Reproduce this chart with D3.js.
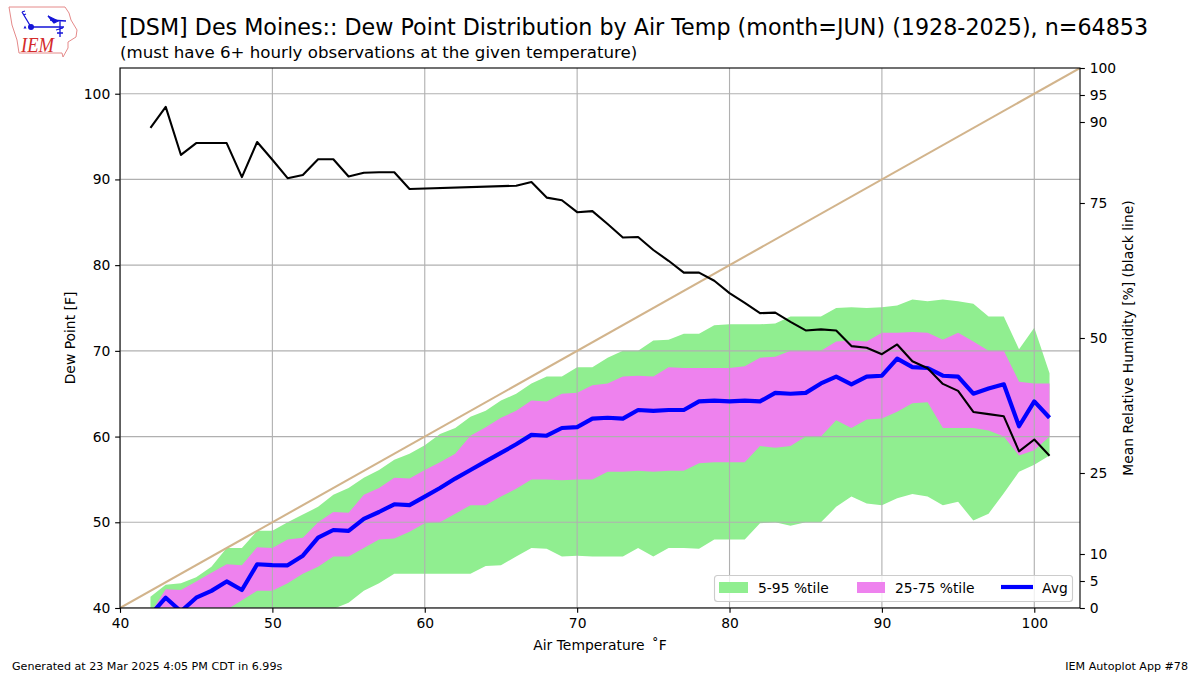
<!DOCTYPE html>
<html><head><meta charset="utf-8">
<script src="https://cdn.jsdelivr.net/npm/d3@7/dist/d3.min.js"></script>
<style>
html,body{margin:0;padding:0;background:#fff}
svg{display:block}
text{font-family:"DejaVu Sans",sans-serif;fill:#000}
</style></head><body>
<svg id="c" width="1200" height="675"></svg>
<script>
const titleText="[DSM] Des Moines:: Dew Point Distribution by Air Temp (month=JUN) (1928-2025), n=64853";
const subtitleText="(must have 6+ hourly observations at the given temperature)";
const footerLeft="Generated at 23 Mar 2025 4:05 PM CDT in 6.99s";
const footerRight="IEM Autoplot App #78";
const xLabel="Air Temperature\u00a0\u2009˚F", yLabel="Dew Point [F]", rhLabel="Mean Relative Humidity [%] (black line)";
const xTicks=[40,50,60,70,80,90,100];
const yTicks=[40,50,60,70,80,90,100];
const rhTicks=[0,5,10,25,50,75,90,95,100];
const temps=[42,43,44,45,46,47,48,49,50,51,52,53,54,55,56,57,58,59,60,61,62,63,64,65,66,67,68,69,70,71,72,73,74,75,76,77,78,79,80,81,82,83,84,85,86,87,88,89,90,91,92,93,94,95,96,97,98,99,100,101];
const p95=[41.3,42.7,42.9,43.6,44.8,47,47,49,49,50,50.9,51.8,53.2,54,55.2,56.1,57.3,58,59,60.3,61,62.3,63,64.2,65,66.2,67,67,68.1,68.1,69.2,70,70,71.2,71.3,72,72,73,73.1,73.1,73.1,73.2,74,74,74,75,75.1,75,75.1,75.3,76,75.8,76,75.8,75.5,74,74,70.2,72.7,67.4];
const p75=[39.4,42.2,42.1,43.1,44.1,45.1,45,47.1,47,48,48.2,50,51.2,51.1,53.2,54,55.2,55.1,56.1,57,58,60.1,61.1,62.2,63,64.2,64.1,65,65.1,66,66.2,67,67.1,67,68.1,68,68,68,68,68.2,69.2,69.3,70,70,70,71.1,71.2,71.1,72.1,72.1,72.2,72.1,71.3,72.1,71.1,70,70,66.4,66.2,66.2];
const avg=[39.2,41.2,39.6,41.2,42,43.1,42.1,45.1,45,44.98,46.1,48.2,49.1,49,50.4,51.2,52.1,52,53,54,55.1,56.1,57.1,58.1,59.1,60.2,60.1,61,61.1,62.1,62.2,62.1,63.1,63,63.1,63.1,64.1,64.2,64.1,64.2,64.1,65.1,65,65.1,66.2,67,66.1,67,67.1,69.1,68.1,68,67.1,67,65,65.6,66.1,61.2,64.1,62.2];
const p25=[36.5,37,37.5,38,39,39.8,40.9,42,42,42.9,44,44.8,46,46,47,48,48.1,48.9,49.9,50,51,52,52,53,53.9,55,55,54.9,55,55,55.9,55.9,56,55.9,56,56,56.9,57,57,57,58.9,58.7,58.9,60,60,61.9,61,62,62.1,62.9,63.9,64,61,61,61,60.7,60,57.8,58.4,60];
const p5=[34,34.5,35,35.5,36,36.5,37,37.5,38,38,38.5,39,39.9,40.6,42,42.9,44,44,44,44,44,44,44.9,45,46,47,46.9,46,46.1,46,46,46,47,46,47,47,46.9,48,48,48,49.9,50,49.6,50,50,51.8,53,52.2,52,52.8,53.3,53,52,52.4,50.2,51,53.4,55.9,56.7,57.8];
const rhTemps=[42,43,44,45,46,47,48,49,50,51,52,53,54,55,56,57,58,59,66,67,68,69,70,71,72,73,74,75,76,77,78,79,80,81,82,83,84,85,86,87,88,89,90,91,92,93,94,95,96,97,98,99,100,101];
const rh=[88.9,92.8,83.9,86.1,86.1,86.1,79.8,86.3,83,79.6,80.2,83.1,83.1,79.9,80.6,80.7,80.7,77.6,78.2,78.9,76,75.5,73.3,73.5,71.1,68.6,68.7,66.3,64.3,62.1,62.1,60.6,58.3,56.5,54.6,54.7,53,51.4,51.6,51.4,48.5,48.2,47,48.8,45.7,44.4,41.5,40.2,36.3,35.9,35.5,29,31.2,28.2];
const refLine=[40,103];
const legendItems=["5-95 %tile","25-75 %tile","Avg"];

const M={l:120,r:1080,t:68,b:608};
const PT=100/72;
const svg=d3.select("#c");
const x=d3.scaleLinear().domain([40,103]).range([M.l,M.r]);
const y=d3.scaleLinear().domain([40,103]).range([M.b,M.t]);
const yR=d3.scaleLinear().domain([0,100]).range([M.b,M.t]);

svg.append("defs").append("clipPath").attr("id","plot").append("rect")
  .attr("x",M.l).attr("y",M.t).attr("width",M.r-M.l).attr("height",M.b-M.t);
const plot=svg.append("g").attr("clip-path","url(#plot)");
const area=(hi,lo)=>d3.area().x((d,i)=>x(temps[i])).y0((d,i)=>y(lo[i])).y1((d,i)=>y(hi[i]))(temps);
plot.append("path").attr("d",area(p95,p5)).attr("fill","#90ee90");
plot.append("path").attr("d",area(p75,p25)).attr("fill","#ee82ee");
// grid
const gridG=plot.append("g").attr("stroke","#b0b0b0").attr("stroke-width",0.8*PT);
gridG.selectAll(".v").data(xTicks).join("line").attr("x1",d=>x(d)).attr("x2",d=>x(d)).attr("y1",M.t).attr("y2",M.b);
gridG.selectAll(".h").data(yTicks).join("line").attr("y1",d=>y(d)).attr("y2",d=>y(d)).attr("x1",M.l).attr("x2",M.r);
// avg
plot.append("path").datum(avg).attr("fill","none").attr("stroke","#0000ff").attr("stroke-width",3*PT)
  .attr("stroke-linejoin","round")
  .attr("d",d3.line().x((d,i)=>x(temps[i])).y(d=>y(d)));
// 1:1 reference
plot.append("path").datum(refLine).attr("fill","none").attr("stroke","#d2b48c").attr("stroke-width",1.5*PT)
  .attr("d",d3.line().x(d=>x(d)).y(d=>y(d)));
// RH
plot.append("path").datum(rh).attr("fill","none").attr("stroke","#000").attr("stroke-width",1.5*PT)
  .attr("stroke-linejoin","round")
  .attr("d",d3.line().x((d,i)=>x(rhTemps[i])).y(d=>yR(d)));

// frame
svg.append("rect").attr("x",M.l).attr("y",M.t).attr("width",M.r-M.l).attr("height",M.b-M.t)
  .attr("fill","none").attr("stroke","#000").attr("stroke-width",0.8*PT);

function styleAxis(g){
  g.select(".domain").remove();
  g.selectAll(".tick line").attr("stroke","#000").attr("stroke-width",0.8*PT);
  g.selectAll(".tick text").attr("font-size",10*PT).attr("font-family",'"DejaVu Sans",sans-serif').attr("fill","#000");
}
const sz=3.5*PT;
svg.append("g").attr("transform",`translate(0,${M.b})`)
  .call(d3.axisBottom(x).tickValues(xTicks).tickSize(sz).tickPadding(3.5*PT).tickFormat(d3.format("d"))).call(styleAxis);
svg.append("g").attr("transform",`translate(${M.l},0)`)
  .call(d3.axisLeft(y).tickValues(yTicks).tickSize(sz).tickPadding(3.5*PT).tickFormat(d3.format("d"))).call(styleAxis);
svg.append("g").attr("transform",`translate(${M.r},0)`)
  .call(d3.axisRight(yR).tickValues(rhTicks).tickSize(sz).tickPadding(3.5*PT).tickFormat(d3.format("d"))).call(styleAxis);

const txt=(t,xx,yy,fs,anchor="start")=>svg.append("text").text(t).attr("x",xx).attr("y",yy).attr("font-size",fs).attr("text-anchor",anchor);
txt(titleText,120,35,16*PT);
txt(subtitleText,120,58,12*PT);
txt(xLabel,600,650,10*PT,"middle");
txt(yLabel,0,0,10*PT,"middle").attr("transform",`translate(75,338) rotate(-90)`);
txt(rhLabel,0,0,10*PT,"middle").attr("transform",`translate(1133,338) rotate(-90)`);
txt(footerLeft,12,670,8*PT);
txt(footerRight,1188,670,8*PT,"end");

// legend
const L=svg.append("g");
L.append("rect").attr("x",714.5).attr("y",575.5).attr("width",358).attr("height",26).attr("rx",3)
  .attr("fill","#fff").attr("fill-opacity",0.8).attr("stroke","#ccc").attr("stroke-width",0.8*PT);
L.append("rect").attr("x",719).attr("y",582).attr("width",29).attr("height",11).attr("fill","#90ee90");
L.append("rect").attr("x",857).attr("y",582).attr("width",28).attr("height",11).attr("fill","#ee82ee");
L.append("line").attr("x1",1001).attr("x2",1033).attr("y1",587).attr("y2",587).attr("stroke","#0000ff").attr("stroke-width",3*PT);
L.selectAll("text").data(legendItems).join("text").text(d=>d)
  .attr("x",(d,i)=>[758,895,1042][i]).attr("y",592.5).attr("font-size",10*PT);

// logo
const logo=svg.append("g");
logo.append("path").attr("d","M9 7 L65 7 L69 13 L71 20 L77 30 L76 37 L68 42 L68 48 L63 57 L62 53 L19 53 L17 40 L12 25 Z")
  .attr("fill","#fff").attr("stroke","#e58a8a").attr("stroke-width",1);
const B=logo.append("g").attr("stroke","#1414d8").attr("fill","none").attr("stroke-width",1.3);
B.append("path").attr("d","M31 27 L64 27 M31 27 L22 12 M22 12 L25 11 M23.5 15 L26 14 M50 20 L66 21 M60 21 L60 37 M56 30 L63 28 M57 33 L63 33");
B.append("path").attr("d","M48 16 L58 21 L54 23 Z").attr("fill","#1414d8");
logo.append("circle").attr("cx",31).attr("cy",27).attr("r",3).attr("fill","#1414d8");
logo.append("path").attr("d","M25 25.5 l1.5 3 l-3 0 Z").attr("fill","#1414d8");
logo.append("text").text("IEM").attr("x",21).attr("y",52).attr("font-size",22)
  .attr("textLength",33).attr("lengthAdjust","spacingAndGlyphs")
  .attr("font-style","italic").style("font-family",'"Liberation Serif",serif').style("fill","#d42b2b");
</script></body></html>
